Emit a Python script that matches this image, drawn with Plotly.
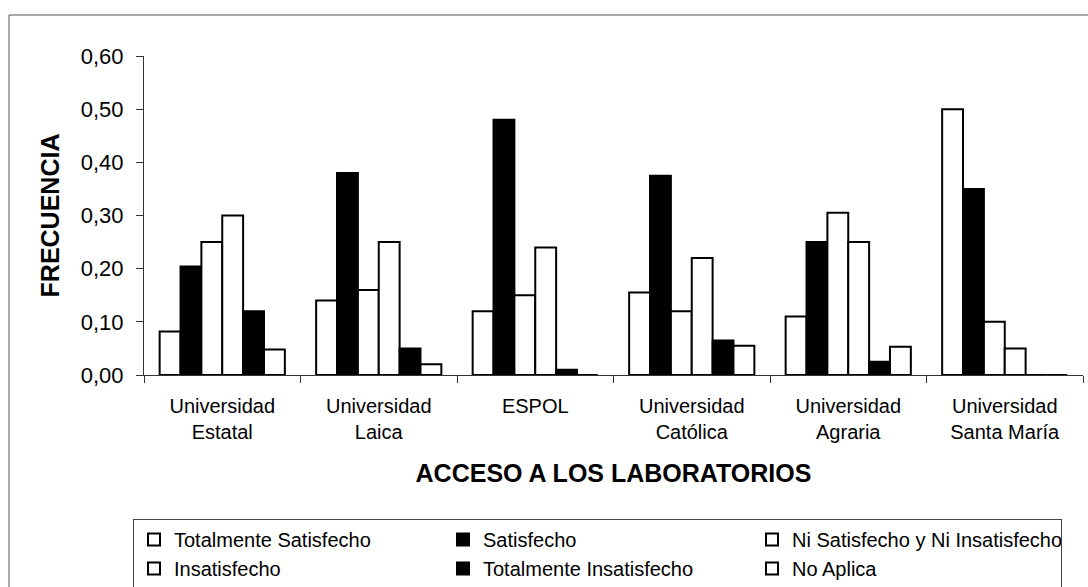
import plotly.graph_objects as go

categories = ["Universidad<br>Estatal", "Universidad<br>Laica", "ESPOL",
              "Universidad<br>Católica", "Universidad<br>Agraria", "Universidad<br>Santa María"]

series_names = ["Totalmente Satisfecho", "Satisfecho", "Ni Satisfecho y Ni Insatisfecho",
                "Insatisfecho", "Totalmente Insatisfecho", "No Aplica"]

totalmente_satisfecho = [0.082, 0.14, 0.12, 0.155, 0.11, 0.50]
satisfecho = [0.204, 0.38, 0.48, 0.375, 0.25, 0.35]
ni_satisfecho = [0.25, 0.16, 0.15, 0.12, 0.305, 0.10]
insatisfecho = [0.30, 0.25, 0.24, 0.22, 0.25, 0.05]
totalmente_insatisfecho = [0.12, 0.05, 0.01, 0.065, 0.025, 0.0]
no_aplica = [0.048, 0.02, 0.0, 0.055, 0.053, 0.0]

series_values = [totalmente_satisfecho, satisfecho, ni_satisfecho,
                 insatisfecho, totalmente_insatisfecho, no_aplica]
series_fill = ["white", "black", "white", "white", "black", "white"]

FONT = "Liberation Sans, Arial, sans-serif"

fig = go.Figure()
for name, vals, fill in zip(series_names, series_values, series_fill):
    fig.add_trace(go.Bar(
        name=name, x=categories, y=vals,
        marker=dict(color=fill, line=dict(color="black", width=2)),
    ))

# plot area geometry (for decorative frame in paper coords)
L, R, T, B = 144, 5, 56, 212
W, H = 1088, 587
pw, ph = W - L - R, H - T - B

def px_x(p):
    return (p - L) / pw

def px_y(p):
    return (H - B - p) / ph

fig.add_shape(type="rect", xref="paper", yref="paper",
              x0=px_x(9), x1=px_x(1095), y0=px_y(15), y1=px_y(600),
              line=dict(color="#555555", width=1), fillcolor="rgba(0,0,0,0)", layer="below")

fig.update_layout(
    width=W, height=H,
    margin=dict(l=L, r=R, t=T, b=B, autoexpand=False),
    paper_bgcolor="white", plot_bgcolor="white",
    separators=",.",
    barmode="group", bargap=0.2, bargroupgap=0,
    font=dict(family=FONT, color="black"),
    showlegend=True,
    legend=dict(
        orientation="h", x=px_x(133), xanchor="left", y=px_y(519), yanchor="top",
        entrywidth=264, entrywidthmode="pixels",
        font=dict(size=20, family=FONT, color="black"),
        bordercolor="#444444", borderwidth=1, bgcolor="white",
        traceorder="normal",
    ),
    xaxis=dict(
        showline=True, linecolor="#333333", linewidth=1,
        ticks="outside", ticklen=7, tickcolor="#333333", tickson="boundaries",
        tickfont=dict(size=20, family=FONT, color="black"),
        ticklabelstandoff=13,
        showgrid=False, automargin=False,
        title=dict(text="<b>ACCESO A LOS LABORATORIOS</b>", font=dict(size=25, family=FONT, color="black"),
                   standoff=22),
    ),
    yaxis=dict(
        range=[0, 0.6], dtick=0.1, tickformat=".2f",
        showline=True, linecolor="#333333", linewidth=1,
        ticks="outside", ticklen=7, tickcolor="#333333",
        tickfont=dict(size=22, family=FONT, color="black"),
        ticklabelstandoff=8,
        showgrid=False, zeroline=False, automargin=False,
        title=dict(text="<b>FRECUENCIA</b>", font=dict(size=25, family=FONT, color="black"),
                   standoff=14),
    ),
)

fig.write_html("out.html",
               config={"displayModeBar": False},
               post_script="document.body.style.margin='0';document.body.style.overflow='hidden';")
